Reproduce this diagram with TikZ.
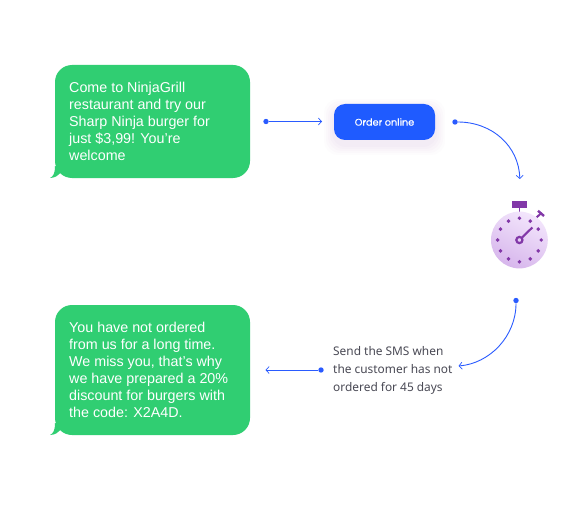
\documentclass[tikz,border=0pt]{standalone}
\usepackage{fontspec}
\setmainfont{Liberation Sans}
\newfontfamily\labelfont{Noto Sans}
\newfontfamily\buttonfont[FakeBold=0.35]{Poppins}
\usetikzlibrary{arrows.meta,positioning}
\definecolor{bubblegreen}{HTML}{30CE72}
\definecolor{flowblue}{HTML}{2A5BFF}
\definecolor{btnblue}{HTML}{1F5BFF}
\definecolor{labelgray}{HTML}{4A4A55}
\definecolor{clockpurple}{HTML}{8238A8}
\definecolor{clocklight}{HTML}{F3E6FC}
\definecolor{clockdark}{HTML}{D7B6EC}
\tikzset{
  bubble/.style={fill=bubblegreen,draw=none,rounded corners=17pt},
  bubbletext/.style={inner sep=0pt,anchor=north west,align=left,text=white,
    font=\fontsize{14.3}{17}\selectfont},
  dotnode/.style={circle,fill=flowblue,inner sep=0pt,minimum size=5.4pt},
  flow/.style={draw=flowblue,line width=.9pt,-{Straight Barb[length=3.2pt,width=7pt,line width=.7pt]}},
  clockdot/.style={circle,fill=clockpurple,inner sep=0pt,minimum size=3.9pt},
}
\begin{document}
\begin{tikzpicture}[x=1pt,y=-1pt]
\useasboundingbox (0,0) rectangle (588,505);
\fill[white] (0,0) rectangle (588,505);
% bubbles
\fill[bubble] (55,65) rectangle (250,178);
\fill[bubblegreen] (50,178) .. controls (53,176.5) and (55,174) .. (55,166) -- (64,170) -- (60,173.3) .. controls (58,176) and (55,177.6) .. (50,178) -- cycle;
\fill[bubble] (55,305) rectangle (250,435);
\fill[bubblegreen] (50,435) .. controls (53,433.5) and (55,431) .. (55,423) -- (64,427) -- (60,430.3) .. controls (58,433) and (55,434.6) .. (50,435) -- cycle;
\node[bubbletext] (msgone) at (69,82) {Come to NinjaGrill\\restaurant and try our\\Sharp Ninja burger for\\just \$3,99! You’re\\welcome};
\node[bubbletext] (msgtwo) at (69,322) {You have not ordered\\from us for a long time.\\We miss you, that’s why\\we have prepared a 20\%\\discount for burgers with\\the code: X2A4D.};
% button shadow
\foreach \g/\o in {10/.012,8/.014,6/.016,4/.018,2/.02}{
  \fill[clockpurple,opacity=\o,rounded corners=14pt] (334-\g,104+5-\g) rectangle (435+\g,140+5+\g);
}
\node[fill=btnblue,rounded corners=11pt,minimum width=101pt,minimum height=36pt,inner sep=0pt,
  text=white,font=\buttonfont\fontsize{9.7}{12}\selectfont] (btn) at (384.5,122) {Order online};
% connectors
\node[dotnode] (d1) at (266,121.5) {};
\coordinate (e1) at (322,121.5);
\draw[flow] (d1) -- (e1);
\node[dotnode] (d2) at (455,122) {};
\coordinate (e2) at (519.8,179);
\draw[flow] (d2) .. controls (492,122) and (519,146) .. (e2);
\node[dotnode] (d3) at (516,300.5) {};
\coordinate (e3) at (458.5,366);
\draw[flow] (d3) .. controls (516,336) and (490,363.5) .. (e3);
\node[dotnode] (d4) at (321,370) {};
\coordinate (e4) at (265.5,370);
\draw[flow] (d4) -- (e4);
\node[inner sep=0pt,anchor=north west,align=left,text=labelgray,
  font=\labelfont\fontsize{11.9}{18}\selectfont] (note) at (333,345.8) {Send the SMS when\\the customer has not\\ordered for 45 days};
% stopwatch
\fill[clockpurple] (512,201) rectangle (526.7,207.7);
\draw[clockpurple,line width=1.6pt] (519.3,207) -- (519.3,213);
\draw[clockpurple,line width=2pt] (536.5,217.5) -- (541,213.3);
\draw[clockpurple,line width=2.4pt] (538,210.8) -- (544,216);
\shade[top color=clocklight,bottom color=clockdark,shading angle=-25] (519.4,240) circle (28.4);
\foreach \a in {0,30,...,330}{
  \node[clockdot] (tick\a) at ({519.4+21.8*cos(\a)},{240+21.8*sin(\a)}) {};
}
\draw[clockpurple,line width=2.1pt] (522,237.5) -- (532.3,227.5);
\draw[clockpurple,line width=2.2pt] (519.4,240) circle (3.1);
\end{tikzpicture}
\end{document}
